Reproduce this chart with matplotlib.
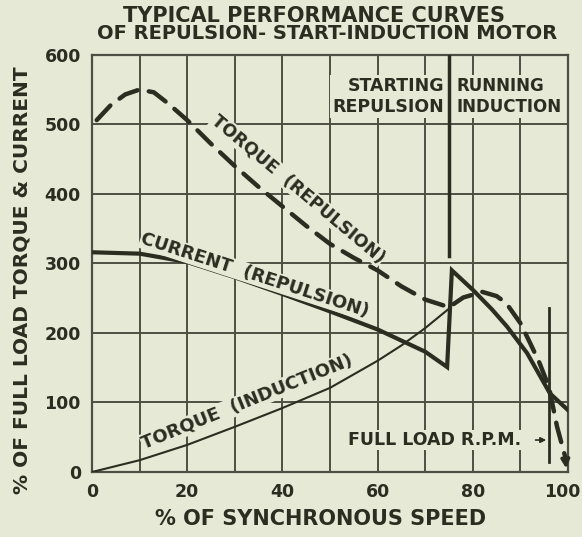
import matplotlib
matplotlib.use("Agg")
import matplotlib.pyplot as plt
import matplotlib.transforms as mtransforms

# torque curve: repulsion start, then induction running up to synchronous speed
torque_speed = [1, 4, 7, 10, 13, 16, 20, 25, 30, 35, 40, 45, 50, 55, 60, 65, 70, 75,
                78, 82, 85, 87, 90, 92, 94, 96, 97.7, 99.4]
torque_pct = [506, 528, 543, 550, 546, 530, 506, 472, 440, 410, 382, 354, 328, 308, 290, 267, 248, 237,
              251, 259, 253, 243, 214, 186, 157, 122, 65, 22]

# current while starting as repulsion motor
cur_rep_speed = [0, 10, 20, 30, 40, 50, 60, 70, 74.6]
cur_rep_pct = [316, 314, 302, 280, 256, 231, 205, 173, 151]

# current after switching to induction
cur_run_speed = [75.6, 80, 84, 87.2, 91.4, 96.2, 100]
cur_run_pct = [290, 262, 234, 209, 171, 113, 89]

# induction torque during the starting period
ind_speed = [0, 10, 20, 30, 40, 50, 60, 65, 70, 75]
ind_pct = [0, 17, 39, 65, 92, 121, 160, 182, 207, 235]

switch_speed = 75
full_load_speed = 96

x_ticks = [0, 20, 40, 60, 80, 100]
y_ticks = [0, 100, 200, 300, 400, 500, 600]

bg = "#e6e9d5"
ink = "#2a2d20"
grid_c = "#4c4f43"

plt.rcParams['font.family'] = ['DejaVu Sans']
plt.rcParams['font.weight'] = 'bold'
plt.rcParams['axes.labelweight'] = 'bold'

fig = plt.figure(figsize=(5.82, 5.37), dpi=100, facecolor=bg)
ax = fig.add_axes([0.158, 0.121, 0.818, 0.777], facecolor=bg)

ax.set_xlim(0, 100)
ax.set_ylim(0, 600)
ax.set_xticks(x_ticks)
ax.set_yticks(y_ticks)
ax.set_xticks(range(0, 101, 10), minor=True)
ax.tick_params(which='both', length=0, labelsize=12.5, colors=ink, pad=8)
ax.grid(True, which='both', color=grid_c, lw=1.4)
ax.set_axisbelow(True)
for s in ax.spines.values():
    s.set_color(grid_c)
    s.set_linewidth(1.6)

# pull the "100" label in so it stays on the page
last = ax.get_xticklabels()[-1]
last.set_transform(last.get_transform() + mtransforms.ScaledTranslation(-4 / 72, 0, fig.dpi_scale_trans))

# curves
ax.plot(torque_speed, torque_pct, color=ink, lw=3.2, dashes=(4.5, 2.6), dash_capstyle='round', zorder=4)
ax.annotate("", xy=(99.7, 1), xytext=(99.4, 22),
            arrowprops=dict(arrowstyle='-|>', color=ink, lw=2.5, mutation_scale=12), zorder=4)
ax.plot(cur_rep_speed + cur_run_speed, cur_rep_pct + cur_run_pct, color=ink, lw=3.0,
        solid_joinstyle='miter', zorder=4)
ax.plot(ind_speed, ind_pct, color=ink, lw=1.5, zorder=4)

# switch-over divider and full load marker
ax.plot([switch_speed, switch_speed], [310, 600], color=ink, lw=2.5, zorder=3)
ax.plot([full_load_speed, full_load_speed], [14, 236], color=ink, lw=2.0, zorder=3)

box = dict(facecolor=bg, edgecolor='none', pad=1.5)
ax.text(74, 540, "STARTING\nREPULSION", ha='right', va='center', fontsize=12.5, color=ink,
        linespacing=1.2, bbox=box, zorder=5)
ax.text(76.5, 540, "RUNNING\nINDUCTION", ha='left', va='center', fontsize=12, color=ink,
        linespacing=1.2, bbox=box, zorder=5)

lbl_box = dict(facecolor=bg, edgecolor='none', pad=0.5)
ax.text(43.3, 407, "TORQUE  (REPULSION)", rotation=-40, ha='center', va='center',
        fontsize=12.5, color=ink, bbox=lbl_box, zorder=5)
ax.text(34.2, 283, "CURRENT  (REPULSION)", rotation=-18, ha='center', va='center',
        fontsize=13, color=ink, bbox=lbl_box, zorder=5)
ax.text(32.6, 101, "TORQUE  (INDUCTION)", rotation=22, ha='center', va='center',
        fontsize=13, color=ink, bbox=lbl_box, zorder=5)

ax.text(72, 46, "FULL LOAD R.P.M.", ha='center', va='center', fontsize=12.5, color=ink,
        bbox=dict(facecolor=bg, edgecolor='none', pad=1), zorder=5)
ax.annotate("", xy=(full_load_speed, 46), xytext=(92.6, 46),
            arrowprops=dict(arrowstyle='-|>', color=ink, lw=1.2, mutation_scale=8), zorder=5)

ax.set_xlabel("% OF SYNCHRONOUS SPEED", fontsize=15, color=ink)
ax.set_ylabel("% OF FULL LOAD TORQUE & CURRENT", fontsize=14.5, color=ink)
ax.xaxis.set_label_coords(0.481, -0.088)
ax.yaxis.set_label_coords(-0.128, 0.46)

fig.text(0.54, 0.97, "TYPICAL PERFORMANCE CURVES", ha='center', va='center', fontsize=15, color=ink)
fig.text(0.562, 0.937, "OF REPULSION- START-INDUCTION MOTOR", ha='center', va='center',
         fontsize=14, color=ink)

fig.savefig("out.png", dpi=100, facecolor=bg)
